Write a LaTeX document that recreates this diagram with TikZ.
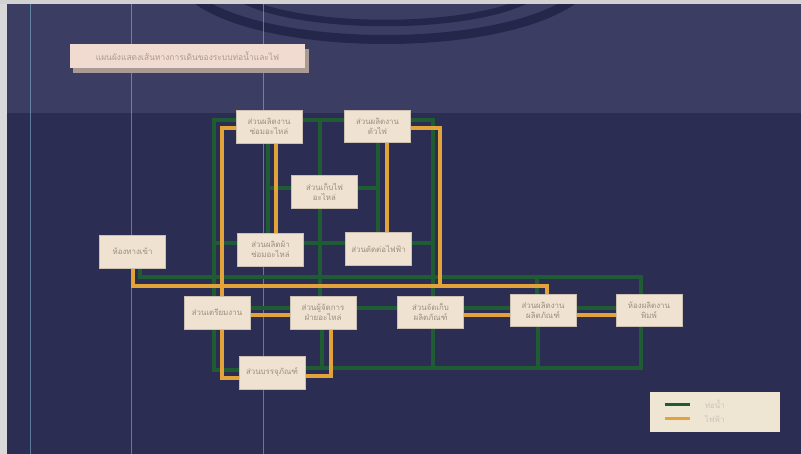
\documentclass[tikz,border=0pt]{standalone}
\usepackage{fontspec}
\newfontfamily\thaifont[Script=Thai]{Loma}
\usepackage{tikz}
\usetikzlibrary{backgrounds,shadows}
\definecolor{navyhi}{HTML}{3B3D63}
\definecolor{navylo}{HTML}{2C2D53}
\definecolor{archue}{HTML}{25274A}
\definecolor{pipegreen}{HTML}{1F5B33}
\definecolor{wireyellow}{HTML}{E2A33A}
\definecolor{roomfill}{HTML}{EFE2D1}
\definecolor{roomtext}{HTML}{9C8E7E}
\definecolor{titlefill}{HTML}{F1DBD1}
\definecolor{titleshade}{HTML}{A99A93}
\definecolor{keyfill}{HTML}{EFE5D3}

\begin{document}
\begin{tikzpicture}[x=0.2mm, y=-0.2mm,
    room/.style={draw=roomfill!85!black, line width=0.2pt, fill=roomfill,
                 minimum width=13.2mm, minimum height=6.5mm, inner sep=1pt,
                 align=center, text=roomtext,
                 font=\thaifont\fontsize{4.5}{5.6}\selectfont},
    grn/.style={draw=pipegreen, line width=0.85mm},
    yel/.style={draw=wireyellow, line width=0.7mm}]
  \useasboundingbox (0,0) rectangle (801,454);
  % the rooms
  \node[room] (A) at (269,126.5) {ส่วนผลิตงาน\\ซ่อมอะไหล่};
  \node[room] (B) at (377.5,126) {ส่วนผลิตงาน\\ตัวไฟ};
  \node[room] (C) at (324.5,191.5) {ส่วนเก็บไฟ\\อะไหล่};
  \node[room] (D) at (270.5,249.5) {ส่วนผลิตผ้า\\ซ่อมอะไหล่};
  \node[room] (E) at (378.5,248.5) {ส่วนตัดต่อไฟฟ้า};
  \node[room] (F) at (132.5,251.5) {ห้องทางเข้า};
  \node[room] (G) at (217,312.5) {ส่วนเตรียมงาน};
  \node[room] (H) at (323,312.5) {ส่วนผู้จัดการ\\ฝ่ายอะไหล่};
  \node[room] (I) at (430.5,312) {ส่วนจัดเก็บ\\ผลิตภัณฑ์};
  \node[room] (J) at (543,310) {ส่วนผลิตงาน\\ผลิตภัณฑ์};
  \node[room] (K) at (649,310) {ห้องผลิตงาน\\พิมพ์};
  \node[room] (L) at (272,372.5) {ส่วนบรรจุภัณฑ์};
  % heading and key
  \node[fill=titlefill, minimum width=47mm, minimum height=4.8mm,
        drop shadow={shadow xshift=0.7mm, shadow yshift=-1mm,
                     fill=titleshade, opacity=1},
        text=titleshade, font=\thaifont\fontsize{4.8}{5.6}\selectfont]
    (title) at (187.5,56.5) {แผนผังแสดงเส้นทางการเดินของระบบท่อน้ำและไฟ};
  \node[fill=keyfill, minimum width=26mm, minimum height=8mm]
    (key) at (715,412) {};
  \draw[grn, line width=0.6mm] ([shift={(3mm,-2.6mm)}]key.north west)
    -- ++(5mm,0) node[right=1.6mm, text=roomfill!70!gray,
                      font=\thaifont\fontsize{4.5}{5}\selectfont] (keypipe) {ท่อน้ำ};
  \draw[yel, line width=0.55mm] ([shift={(3mm,-5.4mm)}]key.north west)
    -- ++(5mm,0) node[right=1.6mm, text=roomfill!70!gray,
                      font=\thaifont\fontsize{4.5}{5}\selectfont] (keywire) {ไฟฟ้า};

  \begin{scope}[on background layer]
    % backdrop: lighter band on top, the two arcs, the pale edges
    \fill[navylo] (0,0) rectangle (801,454);
    \fill[navyhi] (0,0) rectangle (801,113);
    \draw[archue, line width=1.8mm] (192,-4) .. controls (262,54) and (508,54) .. (578,-4);
    \draw[archue, line width=1.3mm] (236,-4) .. controls (292,32) and (478,32) .. (534,-4);
    \fill[gray!30] (0,0) rectangle (7,454);
    \fill[gray!35] (0,0) rectangle (801,4);
    \foreach \lx in {30,131,263}
      \draw[cyan!40!white, opacity=.45, line width=0.25pt] (\lx,4) -- (\lx,454);

    % green runs
    \draw[grn] (L.west |- 0,370) -| (214,120) -- (A.west |- 0,120);
    \draw[grn] (A.east |- 0,120) -- (B.west |- 0,120);
    \draw[grn] (B.east |- 0,120) -| (433,277);
    \draw[grn] (F.south -| 140,0) |- (641,277) -- (K.north -| 641,0);
    \draw[grn] (A.south -| 268,0) -- (D.north -| 268,0);
    \draw[grn] (268,188) -- (C.west |- 0,188);
    \draw[grn] (320,120) -- (C.north -| 320,0);
    \draw[grn] (C.south -| 320,0) -- (H.north -| 320,0);
    \draw[grn] (C.east |- 0,188) -- (378,188);
    \draw[grn] (B.south -| 378,0) -- (E.north -| 378,0);
    \draw[grn] (214,243) -- (D.west |- 0,243);
    \draw[grn] (D.east |- 0,243) -- (E.west |- 0,243);
    \draw[grn] (E.east |- 0,243) -- (433,243);
    \draw[grn] (433,277) -- (I.north -| 433,0);
    \draw[grn] (537,277) -- (J.north -| 537,0);
    \foreach \a/\b in {G/H,H/I,I/J,J/K}
      \draw[grn] (\a.east |- 0,308) -- (\b.west |- 0,308);
    \draw[grn] (L.east |- 0,368) -| (K.south -| 641,0);
    \draw[grn] (H.south -| 322,0) -- (322,368);
    \draw[grn] (I.south -| 433,0) -- (433,368);
    \draw[grn] (J.south -| 538,0) -- (538,368);

    % yellow runs
    \draw[yel] (A.west |- 0,128) -| (222,378) -- (L.west |- 0,378);
    \draw[yel] (A.south -| 276,0) -- (D.north -| 276,0);
    \draw[yel] (B.south -| 387,0) -- (E.north -| 387,0);
    \draw[yel] (B.east |- 0,128) -| (440,286);
    \draw[yel] (F.south -| 133,0) |- (547,286) -- (J.north -| 547,0);
    \foreach \a/\b in {G/H,I/J,J/K}
      \draw[yel] (\a.east |- 0,315) -- (\b.west |- 0,315);
    \draw[yel] (H.south -| 331,0) |- (L.east |- 0,376);
  \end{scope}
\end{tikzpicture}
\end{document}
